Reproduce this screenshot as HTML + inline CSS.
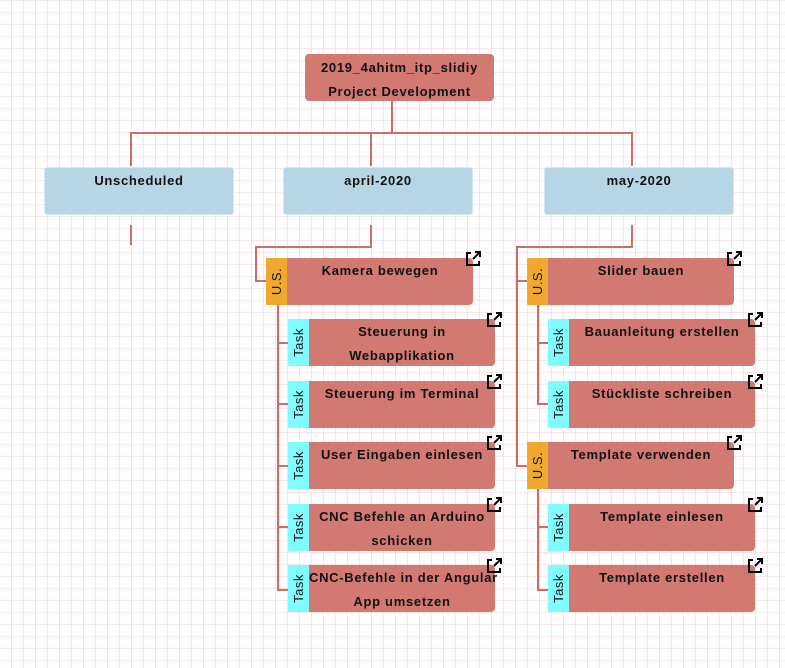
<!DOCTYPE html>
<html><head><meta charset="utf-8"><style>
body{margin:0;width:785px;height:668px;overflow:hidden;font-family:"Liberation Sans",sans-serif;
background-color:#fff;
background-image:linear-gradient(to bottom,rgba(230,150,150,.22) 1px,transparent 1px),linear-gradient(to right,rgba(150,150,150,.2) 1px,transparent 1px);
background-size:12px 12px;background-position:0 0,-1px 0;position:relative}
.n{position:absolute;background:#d27a71;border-radius:4px;color:#111;font-weight:bold;font-size:13px;letter-spacing:0.7px;text-align:center;line-height:24px;box-sizing:border-box;padding-top:1px}
.c{position:absolute;background:#b6d6e6;border-radius:3px;color:#111;font-weight:bold;font-size:13px;letter-spacing:0.7px;text-align:center;line-height:24px;padding-top:1px;border:1px solid #d8e8f0;box-sizing:border-box}
.s{position:absolute;width:21px;height:47px;display:flex;align-items:center;justify-content:center}
.s span{transform:rotate(-90deg);font-size:13px;color:#111;white-space:nowrap;letter-spacing:0.5px}
.us{background:#f0a92e}.tk{background:#7ffcff}
.l{position:absolute;background:#cd6e66}
</style></head><body>
<div class="l" style="left:391px;top:101px;width:2px;height:33px"></div>
<div class="l" style="left:130px;top:132px;width:503px;height:2px"></div>
<div class="l" style="left:130px;top:132px;width:2px;height:34px"></div>
<div class="l" style="left:370px;top:132px;width:2px;height:34px"></div>
<div class="l" style="left:631px;top:132px;width:2px;height:34px"></div>
<div class="l" style="left:130px;top:225px;width:2px;height:20px"></div>
<div class="l" style="left:370px;top:225px;width:2px;height:23px"></div>
<div class="l" style="left:255px;top:246px;width:117px;height:2px"></div>
<div class="l" style="left:255px;top:246px;width:2px;height:36px"></div>
<div class="l" style="left:255px;top:280px;width:12px;height:2px"></div>
<div class="l" style="left:277px;top:305px;width:2px;height:286px"></div>
<div class="l" style="left:277px;top:342px;width:12px;height:2px"></div>
<div class="l" style="left:277px;top:403px;width:12px;height:2px"></div>
<div class="l" style="left:277px;top:465px;width:12px;height:2px"></div>
<div class="l" style="left:277px;top:526px;width:12px;height:2px"></div>
<div class="l" style="left:277px;top:589px;width:12px;height:2px"></div>
<div class="l" style="left:631px;top:225px;width:2px;height:23px"></div>
<div class="l" style="left:516px;top:246px;width:117px;height:2px"></div>
<div class="l" style="left:516px;top:246px;width:2px;height:221px"></div>
<div class="l" style="left:516px;top:280px;width:12px;height:2px"></div>
<div class="l" style="left:516px;top:465px;width:12px;height:2px"></div>
<div class="l" style="left:537px;top:305px;width:2px;height:100px"></div>
<div class="l" style="left:537px;top:342px;width:12px;height:2px"></div>
<div class="l" style="left:537px;top:403px;width:12px;height:2px"></div>
<div class="l" style="left:537px;top:489px;width:2px;height:102px"></div>
<div class="l" style="left:537px;top:526px;width:12px;height:2px"></div>
<div class="l" style="left:537px;top:589px;width:12px;height:2px"></div>

<div class="n" style="left:305px;top:54px;width:189px;height:47px;padding-top:2px">2019_4ahitm_itp_slidiy<br>Project Development</div>
<div class="c" style="left:44px;top:167px;width:190px;height:48px">Unscheduled</div>
<div class="c" style="left:283px;top:167px;width:190px;height:48px">april-2020</div>
<div class="c" style="left:544px;top:167px;width:190px;height:48px">may-2020</div>

<div class="n" style="left:266px;top:258px;width:207px;height:47px;padding-left:21px;border-radius:0 4px 4px 0">Kamera bewegen</div><div class="s us" style="left:266px;top:258px"><span>U.S.</span></div>
<div class="n" style="left:288px;top:319px;width:207px;height:47px;padding-left:21px;border-radius:0 4px 4px 0">Steuerung in<br>Webapplikation</div><div class="s tk" style="left:288px;top:319px"><span>Task</span></div>
<div class="n" style="left:288px;top:381px;width:207px;height:47px;padding-left:21px;border-radius:0 4px 4px 0">Steuerung im Terminal</div><div class="s tk" style="left:288px;top:381px"><span>Task</span></div>
<div class="n" style="left:288px;top:442px;width:207px;height:47px;padding-left:21px;border-radius:0 4px 4px 0">User Eingaben einlesen</div><div class="s tk" style="left:288px;top:442px"><span>Task</span></div>
<div class="n" style="left:288px;top:504px;width:207px;height:47px;padding-left:21px;border-radius:0 4px 4px 0">CNC Befehle an Arduino<br>schicken</div><div class="s tk" style="left:288px;top:504px"><span>Task</span></div>
<div class="n" style="left:288px;top:565px;width:207px;height:47px;padding-left:21px;border-radius:0 4px 4px 0;white-space:nowrap">CNC-Befehle in der Angular<br>App umsetzen</div><div class="s tk" style="left:288px;top:565px"><span>Task</span></div>

<div class="n" style="left:527px;top:258px;width:207px;height:47px;padding-left:21px;border-radius:0 4px 4px 0">Slider bauen</div><div class="s us" style="left:527px;top:258px"><span>U.S.</span></div>
<div class="n" style="left:548px;top:319px;width:207px;height:47px;padding-left:21px;border-radius:0 4px 4px 0">Bauanleitung erstellen</div><div class="s tk" style="left:548px;top:319px"><span>Task</span></div>
<div class="n" style="left:548px;top:381px;width:207px;height:47px;padding-left:21px;border-radius:0 4px 4px 0">Stückliste schreiben</div><div class="s tk" style="left:548px;top:381px"><span>Task</span></div>
<div class="n" style="left:527px;top:442px;width:207px;height:47px;padding-left:21px;border-radius:0 4px 4px 0">Template verwenden</div><div class="s us" style="left:527px;top:442px"><span>U.S.</span></div>
<div class="n" style="left:548px;top:504px;width:207px;height:47px;padding-left:21px;border-radius:0 4px 4px 0">Template einlesen</div><div class="s tk" style="left:548px;top:504px"><span>Task</span></div>
<div class="n" style="left:548px;top:565px;width:207px;height:47px;padding-left:21px;border-radius:0 4px 4px 0">Template erstellen</div><div class="s tk" style="left:548px;top:565px"><span>Task</span></div>

<svg width="785" height="668" style="position:absolute;left:0;top:0" fill="none" stroke="#000" stroke-width="2">
<defs><g id="ic"><path d="M6 2H2V14H14V10" /><path d="M8 8L15 1M10 1H15V6" /></g></defs>
<use href="#ic" x="465" y="251"/>
<use href="#ic" x="486" y="312"/>
<use href="#ic" x="486" y="374"/>
<use href="#ic" x="486" y="435"/>
<use href="#ic" x="486" y="497"/>
<use href="#ic" x="486" y="558"/>
<use href="#ic" x="726" y="251"/>
<use href="#ic" x="747" y="312"/>
<use href="#ic" x="747" y="374"/>
<use href="#ic" x="726" y="435"/>
<use href="#ic" x="747" y="497"/>
<use href="#ic" x="747" y="558"/>
</svg>
</body></html>
